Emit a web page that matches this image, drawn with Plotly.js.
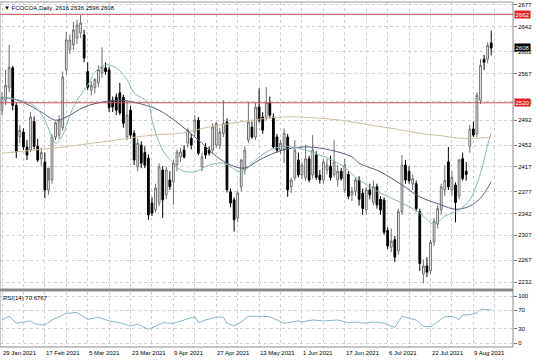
<!DOCTYPE html>
<html><head><meta charset="utf-8">
<script src="https://cdn.plot.ly/plotly-3.0.1.min.js"></script>
<style>html,body{margin:0;padding:0;background:#fff}#c{width:536px;height:361px}</style>
</head><body><div id="c"></div>
<script>
// ---- DATA ----
const openP  = [2508,2524,2544,2576,2516,2465,2473,2449,2444,2490,2450,2430,2425,2380,2396,2465,2468,2480,2573,2605,2613,2624,2632,2629,2570,2540,2544,2552,2568,2576,2573,2524,2529,2536,2529,2465,2508,2471,2417,2452,2440,2431,2359,2348,2359,2412,2372,2396,2393,2420,2433,2444,2455,2463,2473,2492,2417,2449,2444,2444,2452,2452,2471,2489,2377,2364,2335,2385,2412,2460,2481,2465,2513,2497,2497,2520,2497,2465,2444,2444,2465,2385,2400,2428,2404,2400,2430,2404,2436,2404,2396,2412,2418,2404,2396,2410,2380,2405,2372,2378,2396,2375,2348,2380,2360,2385,2365,2364,2315,2288,2300,2282,2345,2420,2410,2390,2390,2345,2245,2258,2250,2296,2325,2348,2380,2425,2380,2388,2370,2430,2410,2450,2478,2470,2524,2590,2590,2616];
const highP  = [2537,2573,2613,2579,2520,2484,2479,2460,2505,2498,2462,2448,2440,2395,2470,2490,2500,2570,2634,2630,2650,2653,2661,2637,2585,2555,2560,2580,2609,2585,2578,2530,2535,2552,2533,2524,2515,2476,2462,2458,2450,2437,2368,2390,2423,2418,2418,2410,2428,2445,2447,2452,2480,2470,2500,2497,2440,2455,2450,2487,2490,2480,2524,2495,2382,2368,2378,2430,2450,2521,2490,2520,2543,2505,2545,2530,2503,2470,2460,2479,2470,2400,2460,2440,2425,2452,2435,2468,2442,2412,2430,2430,2435,2460,2420,2415,2430,2410,2385,2400,2402,2382,2385,2390,2395,2390,2370,2368,2320,2318,2306,2350,2436,2428,2418,2405,2395,2350,2268,2272,2300,2335,2355,2390,2420,2449,2410,2392,2430,2440,2425,2485,2490,2537,2590,2597,2617,2636];
const lowP   = [2500,2516,2537,2508,2431,2455,2444,2428,2441,2445,2425,2418,2367,2372,2390,2460,2462,2475,2565,2598,2605,2615,2624,2585,2540,2532,2535,2545,2560,2565,2505,2505,2500,2500,2480,2460,2462,2420,2410,2415,2415,2332,2338,2344,2354,2335,2365,2380,2356,2410,2425,2430,2448,2445,2465,2436,2410,2430,2435,2438,2448,2445,2465,2376,2352,2313,2328,2378,2405,2455,2462,2460,2488,2470,2492,2495,2446,2440,2438,2423,2369,2375,2395,2400,2398,2395,2392,2398,2396,2390,2390,2405,2395,2400,2385,2395,2375,2365,2362,2370,2355,2340,2340,2365,2355,2350,2340,2308,2285,2280,2264,2276,2340,2390,2390,2380,2345,2250,2230,2240,2245,2290,2318,2340,2370,2380,2370,2328,2365,2395,2395,2440,2465,2465,2518,2573,2583,2596];
const closeP = [2529,2548,2577,2516,2441,2476,2449,2436,2497,2450,2428,2440,2380,2415,2465,2488,2492,2561,2621,2621,2637,2645,2648,2592,2545,2548,2557,2573,2578,2570,2512,2513,2508,2504,2487,2500,2468,2428,2455,2423,2420,2340,2343,2383,2417,2364,2412,2385,2423,2441,2441,2433,2476,2452,2492,2439,2433,2436,2439,2481,2487,2473,2487,2380,2359,2332,2375,2428,2444,2489,2465,2513,2492,2476,2520,2500,2449,2444,2455,2471,2380,2396,2444,2404,2420,2430,2396,2444,2400,2396,2425,2420,2400,2425,2410,2398,2420,2370,2378,2396,2365,2350,2380,2372,2385,2356,2348,2312,2290,2298,2272,2345,2420,2396,2395,2398,2350,2262,2258,2248,2296,2330,2350,2385,2395,2385,2400,2360,2428,2398,2405,2478,2468,2532,2580,2585,2612,2608];

// moving averages at selected bar positions
const fastIdx = [0,5,9,12,15,17,19,21,24,26,29,32,35,37,41,42,45,48,50,54,58,62,67,71,75,79,83,89,95,100,106,112,117,121,124,128,131,134,136,137];
const fastVal = [2529,2524,2515,2492,2455,2468,2500,2524,2548,2569,2581,2576,2557,2536,2520,2492,2444,2423,2412,2409,2420,2423,2409,2428,2444,2450,2447,2436,2420,2396,2375,2359,2343,2325,2338,2348,2364,2407,2452,2471];
const midIdx  = [0,5,11,15,18,23,28,33,39,44,50,56,60,64,68,72,77,81,86,92,98,100,106,112,117,123,127,131,134,137];
const midVal  = [2529,2523,2505,2492,2497,2513,2521,2524,2518,2508,2484,2455,2434,2420,2415,2428,2441,2447,2449,2444,2433,2423,2409,2388,2369,2356,2349,2354,2367,2393];
const slowIdx = [0,14,28,42,50,58,70,78,84,89,95,100,109,117,123,128,132,137];
const slowVal = [2439,2447,2457,2468,2471,2481,2492,2497,2497,2495,2492,2487,2479,2471,2467,2463,2463,2465];

// RSI(14)
const rsiIdx = [0,2,4,6,8,9,12,14,18,21,24,27,30,33,36,38,41,43,45,48,51,54,55,57,60,62,63,65,67,69,71,74,75,79,83,84,87,90,94,97,99,101,104,107,109,110,112,114,116,118,120,122,124,126,128,129,131,133,134,137];
const rsiVal = [49,57,42,44,47,41,38,49,63,65,50,55,47,43,36,40,29,36,43,42,49,56,43,49,55,55,42,36,45,57,57,56,56,42,47,45,49,47,49,43,45,42,45,42,35,33,57,53,49,35,35,45,56,57,50,60,60,64,72,70.7];

const dateLabels = ['29 Jan 2021','17 Feb 2021','5 Mar 2021','23 Mar 2021','9 Apr 2021','27 Apr 2021','13 May 2021','1 Jun 2021','17 Jun 2021','6 Jul 2021','22 Jul 2021','9 Aug 2021'];
const dateIdx = [0,12,24,36,48,60,72,84,96,108,120,132];
const priceTicks = [2677,2642,2602,2567,2522,2492,2452,2417,2377,2342,2307,2267,2232];
const rsiTicks = [0,30,70,100];
const levels = [2662,2520];
const lastPrice = 2608;
const titleText = '\u25BC FCOCOA,Daily  2616 2636 2596 2608';
const rsiText = 'RSI(14) 70.6767';

// ---- CHART ----
const idx = closeP.map((_, i) => i);
const FONT = 'Liberation Sans, Arial, sans-serif';
const FS = 6;
const grid = '#cfcfcf';

const traces = [
  {type:'candlestick', x:idx, open:openP, high:highP, low:lowP, close:closeP,
   xaxis:'x', yaxis:'y', whiskerwidth:0,
   increasing:{line:{color:'#6e6e6e', width:1}, fillcolor:'#ffffff'},
   decreasing:{line:{color:'#000000', width:1}, fillcolor:'#000000'},
   hoverinfo:'skip'},
  {type:'scatter', mode:'lines', x:slowIdx, y:slowVal, yaxis:'y',
   line:{color:'#cbbd9e', width:1, shape:'spline'}, hoverinfo:'skip'},
  {type:'scatter', mode:'lines', x:midIdx, y:midVal, yaxis:'y',
   line:{color:'#5a5a7c', width:1, shape:'spline'}, hoverinfo:'skip'},
  {type:'scatter', mode:'lines', x:fastIdx, y:fastVal, yaxis:'y',
   line:{color:'#86b6b4', width:1, shape:'spline'}, hoverinfo:'skip'},
  {type:'scatter', mode:'lines', x:rsiIdx, y:rsiVal, yaxis:'y2',
   line:{color:'#86b4c6', width:1}, hoverinfo:'skip'}
];

const plotH = 361 - 2 - 14;
const mainBottom = (347 - 288.5) / plotH;
const rsiTop = (347 - 291.5) / plotH;

const annotations = [];
dateLabels.forEach((t, k) => annotations.push({
  text:t, x:dateIdx[k], xref:'x', y:0, yref:'paper', xanchor:'left', yanchor:'top',
  yshift:-1, xshift:-1, showarrow:false, font:{family:FONT, size:FS, color:'#000'}
}));
annotations.push({text:titleText, x:0, xref:'paper', y:1, yref:'paper', xanchor:'left', yanchor:'top',
  xshift:2, yshift:-1, showarrow:false, font:{family:FONT, size:FS, color:'#000'}});
annotations.push({text:rsiText, x:0, xref:'paper', y:rsiTop, yref:'paper', xanchor:'left', yanchor:'top',
  xshift:1, yshift:-1, showarrow:false, font:{family:FONT, size:FS, color:'#000'}});
levels.forEach(v => annotations.push({text:String(v), x:1, xref:'paper', y:v, yref:'y', xanchor:'left', yanchor:'middle',
  xshift:1, showarrow:false, bgcolor:'#e02424', borderpad:0.5, font:{family:FONT, size:FS, color:'#ffffff'}}));
annotations.push({text:String(lastPrice), x:1, xref:'paper', y:lastPrice, yref:'y', xanchor:'left', yanchor:'middle',
  xshift:1, showarrow:false, bgcolor:'#000000', borderpad:0.5, font:{family:FONT, size:FS, color:'#ffffff'}});

const shapes = [
  {type:'rect', xref:'paper', yref:'paper', x0:0, x1:1, y0:rsiTop, y1:mainBottom, fillcolor:'#8a8a8a', line:{width:0}},
  {type:'line', xref:'paper', yref:'paper', x0:0, x1:1, y0:1, y1:1, line:{color:'#9a9a9a', width:1}},
  {type:'line', xref:'paper', yref:'paper', x0:0, x1:0, y0:0, y1:1, line:{color:'#9a9a9a', width:1}},
  {type:'line', xref:'paper', yref:'paper', x0:1, x1:1, y0:0, y1:1, line:{color:'#8a8a8a', width:1}},
  {type:'line', xref:'paper', yref:'paper', x0:0, x1:1, y0:0, y1:0, line:{color:'#8a8a8a', width:1}}
];
levels.forEach(v => shapes.push({type:'line', xref:'paper', yref:'y', x0:0, x1:1, y0:v, y1:v,
  line:{color:'#c8505c', width:1}}));

const layout = {
  width:536, height:361,
  margin:{l:0, r:23, t:2, b:14, pad:0},
  paper_bgcolor:'#ffffff', plot_bgcolor:'#ffffff',
  showlegend:false,
  font:{family:FONT, size:FS, color:'#000'},
  xaxis:{range:[-0.56,143.1], anchor:'y2', tickmode:'linear', tick0:0, dtick:6,
    showticklabels:false, ticks:'', showgrid:true, gridcolor:grid, griddash:'dot', gridwidth:1,
    zeroline:false, showline:false, rangeslider:{visible:false}, fixedrange:true},
  yaxis:{domain:[mainBottom,1], range:[2221.7,2681.8], side:'right', tickmode:'array', tickvals:priceTicks,
    ticks:'outside', ticklen:3, tickcolor:'#7a7a7a', showgrid:true, gridcolor:grid, griddash:'dot',
    zeroline:false, showline:false, tickfont:{family:FONT, size:FS, color:'#000'}, fixedrange:true},
  yaxis2:{domain:[0,rsiTop], range:[-8.5,109.6], side:'right', tickmode:'array', tickvals:rsiTicks,
    ticks:'outside', ticklen:3, tickcolor:'#7a7a7a', showgrid:true, gridcolor:grid, griddash:'dot',
    zeroline:false, showline:false, tickfont:{family:FONT, size:FS, color:'#000'}, fixedrange:true},
  annotations:annotations,
  shapes:shapes
};

Plotly.newPlot('c', traces, layout, {staticPlot:true, displayModeBar:false});
</script>
</body></html>
